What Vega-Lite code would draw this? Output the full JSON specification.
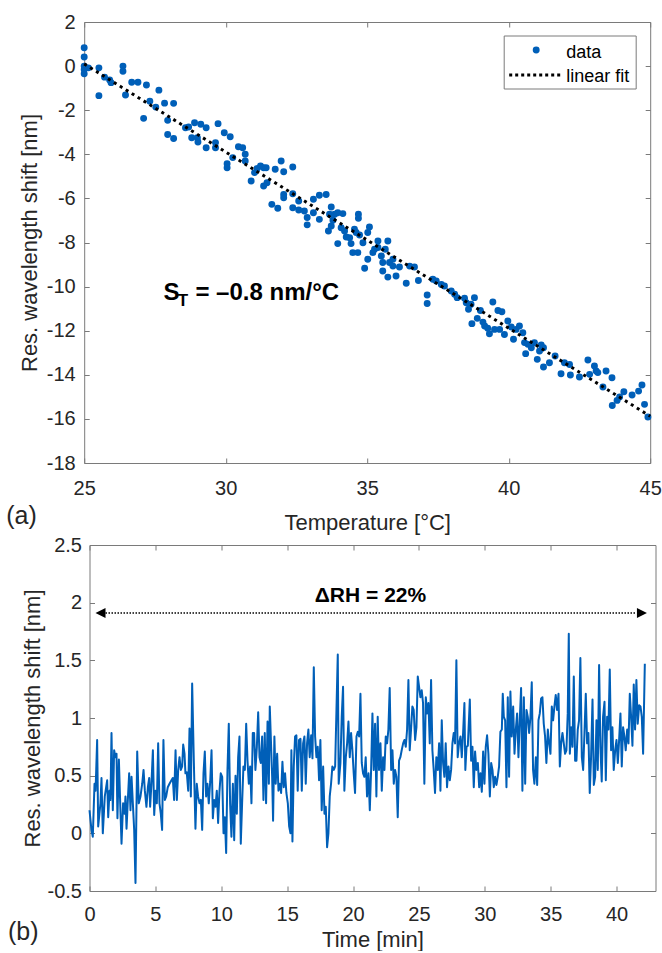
{
  "$schema": "https://vega.github.io/schema/vega-lite/v6.json",
  "background": "white",
  "padding": {"left": 5, "top": 11, "right": 0, "bottom": 0},
  "spacing": 0,
  "center": true,
  "config": {
    "font": "Liberation Sans",
    "view": {"stroke": "#7a7a7a", "strokeWidth": 1},
    "axis": {
      "domain": false, "grid": false, "ticks": true,
      "tickColor": "#7a7a7a", "tickSize": -5, "tickWidth": 1,
      "labelFont": "Liberation Sans", "labelFontSize": 20, "labelColor": "#262626",
      "labelFlush": false, "labelOverlap": false,
      "titleFont": "Liberation Sans", "titleFontSize": 22, "titleColor": "#262626", "titleFontWeight": "normal"
    },
    "text": {"font": "Liberation Sans"}
  },
  "vconcat": [
    {
      "width": 566,
      "height": 441,
      "resolve": {"axis": {"x": "independent", "y": "independent"}},
      "layer": [
        {
          "data": {"values": [
            {"temp":25,"shift":0.83},{"temp":25,"shift":0.41},{"temp":25,"shift":0},{"temp":25,"shift":-0.15},{"temp":25,"shift":-0.35},
            {"temp":25.15,"shift":-0.08},{"temp":25.52,"shift":-0.08},{"temp":25.52,"shift":-1.34},{"temp":25.72,"shift":-0.5},{"temp":25.9,"shift":-0.63},
            {"temp":25.95,"shift":-0.75},{"temp":26.37,"shift":0},{"temp":26.37,"shift":-0.23},{"temp":26.46,"shift":-1.31},{"temp":26.68,"shift":-0.73},
            {"temp":26.9,"shift":-0.73},{"temp":27.1,"shift":-2.37},{"temp":27.2,"shift":-0.86},{"temp":27.32,"shift":-1.59},{"temp":27.53,"shift":-1.86},
            {"temp":27.64,"shift":-1.09},{"temp":27.84,"shift":-1.68},{"temp":27.95,"shift":-2.46},{"temp":27.95,"shift":-3.1},{"temp":28.16,"shift":-1.69},
            {"temp":28.16,"shift":-3.28},{"temp":28.58,"shift":-2.8},{"temp":28.69,"shift":-2.76},{"temp":28.8,"shift":-3.25},{"temp":28.9,"shift":-2.57},
            {"temp":29.0,"shift":-3.25},{"temp":29.02,"shift":-3.44},{"temp":29.12,"shift":-2.64},{"temp":29.31,"shift":-2.8},{"temp":29.31,"shift":-3.7},
            {"temp":29.64,"shift":-3.47},{"temp":29.64,"shift":-3.7},{"temp":29.73,"shift":-2.61},{"temp":29.95,"shift":-3.02},{"temp":30.16,"shift":-3.2},
            {"temp":30.05,"shift":-4.43},{"temp":30.05,"shift":-4.61},{"temp":30.25,"shift":-4.15},{"temp":30.45,"shift":-3.66},{"temp":30.6,"shift":-3.7},
            {"temp":30.69,"shift":-4.0},{"temp":30.69,"shift":-4.3},{"temp":30.9,"shift":-5.21},{"temp":31.02,"shift":-4.83},{"temp":31.11,"shift":-4.64},
            {"temp":31.23,"shift":-4.53},{"temp":31.34,"shift":-4.61},{"temp":31.43,"shift":-4.61},{"temp":31.34,"shift":-5.44},{"temp":31.46,"shift":-5.29},
            {"temp":31.63,"shift":-6.27},{"temp":31.84,"shift":-6.45},{"temp":31.75,"shift":-4.68},{"temp":31.96,"shift":-4.3},{"temp":32.05,"shift":-4.79},
            {"temp":32.37,"shift":-4.58},{"temp":32.05,"shift":-5.82},{"temp":32.05,"shift":-5.97},{"temp":32.37,"shift":-5.79},{"temp":32.37,"shift":-6.42},
            {"temp":32.58,"shift":-6.12},{"temp":32.58,"shift":-6.53},{"temp":32.78,"shift":-6.57},{"temp":32.88,"shift":-6.87},{"temp":32.88,"shift":-7.2},
            {"temp":33.1,"shift":-6.04},{"temp":33.1,"shift":-6.65},{"temp":33.31,"shift":-5.86},{"temp":33.31,"shift":-6.95},{"temp":33.55,"shift":-5.82},
            {"temp":33.63,"shift":-7.48},{"temp":33.67,"shift":-6.72},
            {"temp":33.73,"shift":-6.39},{"temp":33.85,"shift":-6.72},{"temp":33.96,"shift":-6.65},{"temp":34.14,"shift":-6.69},{"temp":34.69,"shift":-6.72},
            {"temp":34.69,"shift":-6.9},{"temp":33.79,"shift":-6.99},{"temp":33.73,"shift":-7.25},{"temp":34.08,"shift":-7.33},{"temp":34.2,"shift":-7.48},
            {"temp":34.26,"shift":-7.75},{"temp":34.38,"shift":-7.78},{"temp":34.55,"shift":-7.4},{"temp":34.61,"shift":-7.55},{"temp":34.73,"shift":-7.66},
            {"temp":35.02,"shift":-7.55},{"temp":35.08,"shift":-7.3},{"temp":35.38,"shift":-7.93},{"temp":35.73,"shift":-7.93},
            {"temp":33.96,"shift":-8.05},{"temp":34.43,"shift":-8.05},{"temp":34.49,"shift":-8.46},{"temp":34.67,"shift":-8.46},{"temp":34.85,"shift":-8.01},
            {"temp":34.91,"shift":-9.17},{"temp":35.02,"shift":-8.76},{"temp":35.2,"shift":-8.46},{"temp":35.26,"shift":-8.31},{"temp":35.38,"shift":-8.23},
            {"temp":35.5,"shift":-8.61},{"temp":35.55,"shift":-8.91},{"temp":35.55,"shift":-9.29},{"temp":35.64,"shift":-8.31},{"temp":35.73,"shift":-9.57},
            {"temp":35.79,"shift":-8.91},{"temp":35.91,"shift":-8.76},{"temp":35.91,"shift":-9.07},{"temp":36.02,"shift":-9.52},{"temp":36.14,"shift":-9.11},
            {"temp":36.38,"shift":-9.85},{"temp":36.5,"shift":-9.07},{"temp":36.67,"shift":-9.11},{"temp":36.81,"shift":-9.72},{"temp":37.12,"shift":-10.38},
            {"temp":37.12,"shift":-10.77},{"temp":37.32,"shift":-9.67},{"temp":37.44,"shift":-9.75},{"temp":37.62,"shift":-9.9},{"temp":37.73,"shift":-9.97},
            {"temp":37.97,"shift":-10.2},{"temp":38.09,"shift":-10.35},{"temp":38.18,"shift":-10.5},{"temp":38.44,"shift":-10.53},{"temp":38.5,"shift":-10.73},
            {"temp":38.58,"shift":-11.03},{"temp":38.67,"shift":-10.8},{"temp":38.79,"shift":-10.5},{"temp":38.7,"shift":-11.68},{"temp":38.89,"shift":-11.44},
            {"temp":39.0,"shift":-11.08},{"temp":39.09,"shift":-11.61},{"temp":39.15,"shift":-11.79},{"temp":39.26,"shift":-11.89},{"temp":39.32,"shift":-12.14},
            {"temp":39.44,"shift":-10.7},{"temp":39.5,"shift":-11.94},{"temp":39.62,"shift":-11.08},{"temp":39.68,"shift":-11.94},{"temp":39.76,"shift":-11.14},
            {"temp":39.85,"shift":-12.17},{"temp":39.97,"shift":-11.56},{"temp":40.09,"shift":-11.83},{"temp":40.17,"shift":-12.39},{"temp":40.26,"shift":-11.94},
            {"temp":40.38,"shift":-11.79},{"temp":40.5,"shift":-12.09},{"temp":40.56,"shift":-12.54},{"temp":40.6,"shift":-13.04},{"temp":40.68,"shift":-12.62},
            {"temp":40.8,"shift":-12.77},{"temp":40.91,"shift":-12.54},{"temp":41.01,"shift":-13.3},{"temp":41.09,"shift":-12.92},{"temp":41.15,"shift":-12.65},
            {"temp":41.23,"shift":-12.77},{"temp":41.23,"shift":-13.65},{"temp":41.44,"shift":-13.45},{"temp":41.64,"shift":-13.15},{"temp":41.85,"shift":-13.95},
            {"temp":41.97,"shift":-13.45},{"temp":42.15,"shift":-13.53},{"temp":42.18,"shift":-14.01},{"temp":42.5,"shift":-14.1},{"temp":42.8,"shift":-13.33},
            {"temp":42.86,"shift":-13.98},{"temp":43.03,"shift":-13.6},{"temp":43.09,"shift":-13.83},{"temp":43.15,"shift":-13.9},{"temp":43.33,"shift":-14.55},
            {"temp":43.44,"shift":-13.83},{"temp":43.65,"shift":-14.13},{"temp":43.66,"shift":-15.39},{"temp":43.83,"shift":-15.16},{"temp":43.92,"shift":-15.01},
            {"temp":44.07,"shift":-14.77},{"temp":44.36,"shift":-14.92},{"temp":44.59,"shift":-14.74},{"temp":44.71,"shift":-14.46},{"temp":44.8,"shift":-15.34},
            {"temp":44.92,"shift":-15.91}
          ]},
          "mark": {"type": "point", "filled": true, "size": 48, "opacity": 1, "strokeWidth": 0, "color": "#005fb8"},
          "encoding": {
            "x": {"field": "temp", "type": "quantitative",
              "scale": {"domain": [25, 45], "nice": false, "zero": false},
              "axis": {"orient": "bottom", "values": [25, 30, 35, 40, 45], "labelExpr": "'' + datum.value",
                "title": "Temperature [°C]", "labelPadding": 20, "titlePadding": 14}},
            "y": {"field": "shift", "type": "quantitative",
              "scale": {"domain": [-18, 2], "nice": false, "zero": false},
              "axis": {"orient": "left", "values": [-18, -16, -14, -12, -10, -8, -6, -4, -2, 0, 2], "labelExpr": "'' + datum.value",
                "title": "Res. wavelength shift [nm]", "labelPadding": 14, "titlePadding": 5}}
          }
        },
        {
          "data": {"values": [{"temp": 25, "shift": 0.1}, {"temp": 45, "shift": -15.88}]},
          "mark": {"type": "line", "strokeDash": [3, 4], "strokeWidth": 3, "strokeCap": "butt", "color": "#000000"},
          "encoding": {
            "x": {"field": "temp", "type": "quantitative",
              "axis": {"orient": "top", "values": [25, 30, 35, 40, 45], "labels": false, "title": null}},
            "y": {"field": "shift", "type": "quantitative",
              "axis": {"orient": "right", "values": [-18, -16, -14, -12, -10, -8, -6, -4, -2, 0, 2], "labels": false, "title": null}}
          }
        },
        {
          "data": {"values": [{}]},
          "mark": {"type": "rect", "fill": "white", "stroke": "#7a7a7a", "strokeWidth": 1},
          "encoding": {
            "x": {"datum": 39.841, "type": "quantitative", "axis": null},
            "x2": {"datum": 44.505},
            "y": {"datum": 1.365, "type": "quantitative", "axis": null},
            "y2": {"datum": -1.039}
          }
        },
        {
          "data": {"values": [{}]},
          "mark": {"type": "point", "filled": true, "size": 48, "opacity": 1, "strokeWidth": 0, "color": "#005fb8"},
          "encoding": {
            "x": {"datum": 40.972, "type": "quantitative", "axis": null},
            "y": {"datum": 0.73, "type": "quantitative", "axis": null}
          }
        },
        {
          "data": {"values": [{}]},
          "mark": {"type": "rule", "strokeDash": [3, 3], "strokeWidth": 3, "strokeCap": "butt", "color": "#000000"},
          "encoding": {
            "x": {"datum": 40.018, "type": "quantitative", "axis": null},
            "x2": {"datum": 41.855},
            "y": {"datum": -0.404, "type": "quantitative", "axis": null}
          }
        },
        {
          "data": {"values": [{}]},
          "mark": {"type": "text", "text": "data", "fontSize": 18, "align": "left", "baseline": "alphabetic", "color": "#000000"},
          "encoding": {
            "x": {"datum": 42.032, "type": "quantitative", "axis": null},
            "y": {"datum": 0.367, "type": "quantitative", "axis": null}
          }
        },
        {
          "data": {"values": [{}]},
          "mark": {"type": "text", "text": "linear fit", "fontSize": 18, "align": "left", "baseline": "alphabetic", "color": "#000000"},
          "encoding": {
            "x": {"datum": 42.032, "type": "quantitative", "axis": null},
            "y": {"datum": -0.721, "type": "quantitative", "axis": null}
          }
        },
        {
          "data": {"values": [{}]},
          "mark": {"type": "text", "text": "S", "fontSize": 24, "fontWeight": "bold", "align": "left", "baseline": "alphabetic", "color": "#000000"},
          "encoding": {
            "x": {"datum": 27.8, "type": "quantitative", "axis": null},
            "y": {"datum": -10.62, "type": "quantitative", "axis": null}
          }
        },
        {
          "data": {"values": [{}]},
          "mark": {"type": "text", "text": "T", "fontSize": 17, "fontWeight": "bold", "align": "left", "baseline": "alphabetic", "color": "#000000"},
          "encoding": {
            "x": {"datum": 28.31, "type": "quantitative", "axis": null},
            "y": {"datum": -10.88, "type": "quantitative", "axis": null}
          }
        },
        {
          "data": {"values": [{}]},
          "mark": {"type": "text", "text": "= –0.8 nm/°C", "fontSize": 24, "fontWeight": "bold", "align": "left", "baseline": "alphabetic", "color": "#000000"},
          "encoding": {
            "x": {"datum": 28.93, "type": "quantitative", "axis": null},
            "y": {"datum": -10.62, "type": "quantitative", "axis": null}
          }
        },
        {
          "data": {"values": [{}]},
          "mark": {"type": "text", "text": "(a)", "fontSize": 25, "align": "left", "baseline": "middle", "color": "#262626"},
          "encoding": {
            "x": {"datum": 22.244, "type": "quantitative", "axis": null},
            "y": {"datum": -20.4, "type": "quantitative", "axis": null}
          }
        }
      ]
    },
    {
      "width": 566,
      "height": 346,
      "resolve": {"axis": {"x": "independent", "y": "independent"}},
      "layer": [
        {
          "data": {"values": [
            {"t":0.00,"s":0.20},{"t":0.15,"s":0.03},{"t":0.25,"s":-0.03},{"t":0.38,"s":0.43},{"t":0.46,"s":0.37},{"t":0.58,"s":0.81},{"t":0.66,"s":0.06},{"t":0.83,"s":0.26},{"t":0.91,"s":0.48},{"t":1.01,"s":0.00},
            {"t":1.16,"s":0.32},{"t":1.34,"s":0.46},{"t":1.42,"s":0.14},{"t":1.52,"s":0.37},{"t":1.59,"s":0.29},{"t":1.67,"s":0.87},{"t":1.77,"s":0.20},{"t":1.87,"s":0.72},{"t":1.97,"s":0.66},{"t":2.05,"s":0.69},
            {"t":2.12,"s":0.13},{"t":2.23,"s":0.64},{"t":2.33,"s":0.26},{"t":2.43,"s":-0.09},{"t":2.55,"s":0.26},{"t":2.66,"s":0.17},{"t":2.73,"s":0.32},{"t":2.81,"s":0.04},{"t":2.91,"s":0.29},{"t":3.01,"s":0.52},
            {"t":3.11,"s":0.20},{"t":3.19,"s":0.49},{"t":3.29,"s":0.26},{"t":3.39,"s":0.03},{"t":3.49,"s":-0.43},{"t":3.62,"s":0.71},{"t":3.74,"s":0.26},{"t":3.87,"s":0.32},{"t":4.00,"s":0.43},{"t":4.10,"s":0.55},
            {"t":4.20,"s":0.37},{"t":4.32,"s":0.23},{"t":4.43,"s":0.40},{"t":4.53,"s":0.48},{"t":4.60,"s":0.23},{"t":4.70,"s":0.43},{"t":4.81,"s":0.72},{"t":4.91,"s":0.16},{"t":5.01,"s":0.37},{"t":5.11,"s":0.26},
            {"t":5.21,"s":0.78},{"t":5.31,"s":0.26},{"t":5.41,"s":0.17},{"t":5.51,"s":0.03},{"t":5.61,"s":0.81},{"t":5.72,"s":0.29},{"t":5.82,"s":0.32},{"t":5.94,"s":0.40},{"t":6.07,"s":0.43},{"t":6.22,"s":0.46},
            {"t":6.32,"s":0.48},{"t":6.42,"s":0.29},{"t":6.53,"s":0.72},{"t":6.63,"s":0.29},{"t":6.73,"s":0.55},{"t":6.83,"s":0.66},{"t":6.93,"s":0.55},{"t":7.03,"s":0.58},{"t":7.11,"s":0.77},{"t":7.21,"s":0.69},
            {"t":7.28,"s":0.52},{"t":7.38,"s":0.53},{"t":7.49,"s":0.37},{"t":7.59,"s":0.91},{"t":7.69,"s":0.32},{"t":7.79,"s":1.30},{"t":7.92,"s":0.61},{"t":8.04,"s":0.04},{"t":8.14,"s":0.43},{"t":8.24,"s":0.32},
            {"t":8.35,"s":0.26},{"t":8.45,"s":0.29},{"t":8.55,"s":0.03},{"t":8.65,"s":0.52},{"t":8.75,"s":0.71},{"t":8.85,"s":0.32},{"t":8.95,"s":0.43},{"t":9.05,"s":0.26},{"t":9.16,"s":0.45},{"t":9.26,"s":0.72},
            {"t":9.36,"s":0.13},{"t":9.46,"s":0.29},{"t":9.56,"s":0.23},{"t":9.66,"s":0.37},{"t":9.76,"s":0.09},{"t":9.86,"s":0.36},{"t":9.96,"s":0.52},{"t":10.07,"s":0.49},{"t":10.17,"s":0.00},{"t":10.27,"s":0.14},
            {"t":10.37,"s":-0.17},{"t":10.47,"s":0.55},{"t":10.57,"s":0.95},{"t":10.67,"s":0.26},{"t":10.77,"s":-0.03},{"t":10.88,"s":0.43},{"t":10.98,"s":-0.06},{"t":11.08,"s":0.50},{"t":11.18,"s":0.17},{"t":11.28,"s":0.66},
            {"t":11.38,"s":0.84},{"t":11.48,"s":-0.09},{"t":11.58,"s":0.26},{"t":11.68,"s":0.58},{"t":11.79,"s":0.55},{"t":11.89,"s":0.95},{"t":11.99,"s":0.63},{"t":12.09,"s":0.43},{"t":12.19,"s":0.58},{"t":12.29,"s":0.26},
            {"t":12.39,"s":0.87},{"t":12.49,"s":0.87},{"t":12.59,"s":0.55},{"t":12.70,"s":0.75},{"t":12.80,"s":1.05},{"t":12.90,"s":0.66},{"t":13.00,"s":0.61},{"t":13.10,"s":0.84},{"t":13.20,"s":0.29},{"t":13.30,"s":0.87},
            {"t":13.40,"s":0.26},{"t":13.51,"s":0.97},{"t":13.61,"s":0.43},{"t":13.68,"s":1.10},
            {"t":13.86,"s":0.49},{"t":13.93,"s":0.11},{"t":14.03,"s":0.84},{"t":14.13,"s":0.43},{"t":14.24,"s":0.69},{"t":14.34,"s":0.37},{"t":14.44,"s":0.43},{"t":14.54,"s":0.35},{"t":14.64,"s":0.62},{"t":14.74,"s":0.40},
            {"t":14.84,"s":0.52},{"t":14.94,"s":0.35},{"t":15.05,"s":0.26},{"t":15.15,"s":0.06},{"t":15.25,"s":0.00},{"t":15.32,"s":0.72},{"t":15.40,"s":-0.07},{"t":15.50,"s":0.58},{"t":15.60,"s":0.84},{"t":15.70,"s":0.85},
            {"t":15.80,"s":0.37},{"t":15.90,"s":0.81},{"t":16.01,"s":0.82},{"t":16.11,"s":0.37},{"t":16.21,"s":0.78},{"t":16.31,"s":0.84},{"t":16.41,"s":0.43},{"t":16.51,"s":0.78},{"t":16.61,"s":0.90},{"t":16.71,"s":0.66},
            {"t":16.82,"s":0.85},{"t":16.92,"s":0.65},{"t":17.02,"s":1.44},{"t":17.12,"s":0.84},{"t":17.22,"s":0.66},{"t":17.32,"s":0.75},{"t":17.42,"s":0.46},{"t":17.52,"s":0.81},{"t":17.62,"s":0.20},{"t":17.73,"s":0.58},
            {"t":17.83,"s":0.17},{"t":17.93,"s":0.23},{"t":18.03,"s":-0.12},{"t":18.13,"s":0.00},{"t":18.23,"s":0.32},{"t":18.33,"s":0.43},{"t":18.43,"s":0.58},{"t":18.54,"s":0.55},{"t":18.64,"s":0.58},{"t":18.74,"s":1.07},
            {"t":18.84,"s":1.55},{"t":18.91,"s":0.43},{"t":19.04,"s":0.61},{"t":19.14,"s":1.01},{"t":19.24,"s":1.27},{"t":19.34,"s":0.37},{"t":19.45,"s":0.66},{"t":19.55,"s":0.78},{"t":19.65,"s":0.97},{"t":19.75,"s":0.66},
            {"t":19.85,"s":0.87},{"t":19.95,"s":0.72},{"t":20.05,"s":0.52},{"t":20.15,"s":0.35},{"t":20.26,"s":0.84},{"t":20.36,"s":0.88},{"t":20.46,"s":0.84},{"t":20.56,"s":1.21},{"t":20.66,"s":0.61},{"t":20.76,"s":0.52},
            {"t":20.86,"s":0.49},{"t":20.96,"s":0.66},{"t":21.06,"s":0.32},{"t":21.17,"s":0.52},{"t":21.27,"s":0.20},{"t":21.37,"s":0.55},{"t":21.47,"s":1.04},{"t":21.57,"s":0.55},{"t":21.67,"s":0.95},{"t":21.77,"s":0.32},
            {"t":21.87,"s":1.01},{"t":21.97,"s":0.55},{"t":22.08,"s":0.78},{"t":22.18,"s":0.37},{"t":22.28,"s":0.66},{"t":22.38,"s":0.55},{"t":22.48,"s":0.84},{"t":22.58,"s":0.78},{"t":22.68,"s":0.90},{"t":22.78,"s":1.26},
            {"t":22.89,"s":0.55},{"t":22.99,"s":0.72},{"t":23.09,"s":0.43},{"t":23.19,"s":0.55},{"t":23.29,"s":0.49},{"t":23.39,"s":0.14},{"t":23.49,"s":0.63},{"t":23.59,"s":0.66},{"t":23.69,"s":0.72},{"t":23.80,"s":0.78},
            {"t":23.90,"s":0.81},{"t":24.00,"s":0.75},{"t":24.10,"s":0.90},{"t":24.20,"s":1.33},{"t":24.30,"s":0.72},{"t":24.40,"s":0.90},{"t":24.50,"s":1.10},{"t":24.60,"s":1.07},{"t":24.71,"s":0.81},{"t":24.81,"s":0.92},
            {"t":24.91,"s":1.36},{"t":25.01,"s":1.27},{"t":25.11,"s":1.18},{"t":25.21,"s":1.24},{"t":25.31,"s":1.13},{"t":25.41,"s":0.43},{"t":25.52,"s":1.18},{"t":25.62,"s":1.04},{"t":25.72,"s":1.13},{"t":25.82,"s":0.78},
            {"t":25.92,"s":1.33},{"t":26.02,"s":0.72},{"t":26.12,"s":0.55},{"t":26.22,"s":0.35},{"t":26.32,"s":0.66},{"t":26.43,"s":0.55},{"t":26.53,"s":0.78},{"t":26.63,"s":0.37},{"t":26.73,"s":0.98},{"t":26.83,"s":0.61},
            {"t":26.93,"s":0.49},{"t":27.03,"s":0.78},{"t":27.13,"s":0.40},{"t":27.24,"s":0.58},{"t":27.34,"s":0.46},{"t":27.44,"s":0.55},{"t":27.54,"s":0.78},{"t":27.64,"s":0.87},{"t":27.74,"s":0.78},{"t":27.84,"s":1.50},
            {"t":27.94,"s":0.66},{"t":28.04,"s":0.78},{"t":28.15,"s":0.84},{"t":28.25,"s":0.66},{"t":28.35,"s":0.87},{"t":28.45,"s":1.13},{"t":28.52,"s":0.55},
            {"t":28.61,"s":0.75},{"t":28.71,"s":0.76},{"t":28.86,"s":1.16},{"t":28.96,"s":0.63},{"t":29.06,"s":0.75},{"t":29.16,"s":0.40},{"t":29.26,"s":0.71},{"t":29.36,"s":0.55},{"t":29.47,"s":0.61},{"t":29.57,"s":0.40},
            {"t":29.67,"s":0.52},{"t":29.77,"s":0.36},{"t":29.87,"s":0.71},{"t":29.97,"s":0.43},{"t":30.07,"s":0.75},{"t":30.17,"s":0.85},{"t":30.27,"s":0.69},{"t":30.38,"s":0.32},{"t":30.48,"s":0.61},{"t":30.58,"s":0.55},
            {"t":30.68,"s":0.40},{"t":30.78,"s":0.49},{"t":30.88,"s":0.42},{"t":30.98,"s":0.49},{"t":31.08,"s":0.58},{"t":31.18,"s":0.88},{"t":31.29,"s":0.90},{"t":31.36,"s":1.21},{"t":31.44,"s":1.01},{"t":31.54,"s":0.98},
            {"t":31.64,"s":0.40},{"t":31.74,"s":1.18},{"t":31.84,"s":0.49},{"t":31.94,"s":1.23},{"t":32.04,"s":0.84},{"t":32.15,"s":1.10},{"t":32.25,"s":0.69},{"t":32.35,"s":0.90},{"t":32.45,"s":1.04},{"t":32.55,"s":0.66},
            {"t":32.65,"s":0.98},{"t":32.75,"s":1.26},{"t":32.85,"s":0.37},{"t":32.96,"s":1.18},{"t":33.06,"s":0.43},{"t":33.16,"s":1.07},{"t":33.26,"s":1.01},{"t":33.36,"s":0.87},{"t":33.46,"s":1.01},{"t":33.56,"s":1.31},
            {"t":33.66,"s":0.55},{"t":33.76,"s":0.43},{"t":33.87,"s":0.66},{"t":33.97,"s":0.42},{"t":34.07,"s":0.98},{"t":34.17,"s":1.04},{"t":34.27,"s":1.17},{"t":34.37,"s":1.18},{"t":34.47,"s":0.95},{"t":34.57,"s":0.84},
            {"t":34.67,"s":0.61},{"t":34.78,"s":0.90},{"t":34.88,"s":0.78},{"t":34.98,"s":0.69},{"t":35.08,"s":1.10},{"t":35.18,"s":0.98},{"t":35.28,"s":1.10},{"t":35.38,"s":1.20},{"t":35.48,"s":1.07},{"t":35.59,"s":1.21},
            {"t":35.69,"s":0.58},{"t":35.79,"s":0.78},{"t":35.89,"s":0.87},{"t":35.99,"s":0.78},{"t":36.09,"s":0.69},{"t":36.19,"s":0.72},{"t":36.29,"s":1.04},{"t":36.37,"s":1.73},{"t":36.45,"s":0.69},{"t":36.55,"s":0.92},
            {"t":36.65,"s":0.75},{"t":36.75,"s":1.36},{"t":36.85,"s":0.63},{"t":36.95,"s":0.63},{"t":37.05,"s":0.90},{"t":37.15,"s":0.98},{"t":37.25,"s":1.52},{"t":37.36,"s":0.66},{"t":37.46,"s":0.55},{"t":37.56,"s":0.87},
            {"t":37.66,"s":1.21},{"t":37.76,"s":0.78},{"t":37.86,"s":0.87},{"t":37.96,"s":0.35},{"t":38.06,"s":0.66},{"t":38.17,"s":1.16},{"t":38.27,"s":0.42},{"t":38.37,"s":0.49},{"t":38.47,"s":0.98},{"t":38.57,"s":0.55},
            {"t":38.67,"s":1.46},{"t":38.77,"s":0.75},{"t":38.87,"s":0.45},{"t":38.97,"s":1.01},{"t":39.08,"s":1.14},{"t":39.18,"s":0.46},{"t":39.28,"s":1.01},{"t":39.38,"s":0.90},{"t":39.48,"s":1.42},{"t":39.58,"s":0.72},
            {"t":39.68,"s":0.92},{"t":39.78,"s":0.55},{"t":39.89,"s":0.72},{"t":39.99,"s":0.81},{"t":40.09,"s":0.61},{"t":40.19,"s":0.81},{"t":40.29,"s":1.04},{"t":40.39,"s":0.58},{"t":40.49,"s":0.92},{"t":40.59,"s":0.84},
            {"t":40.69,"s":0.72},{"t":40.80,"s":0.90},{"t":40.90,"s":0.78},{"t":41.00,"s":1.21},{"t":41.10,"s":1.01},{"t":41.20,"s":0.76},{"t":41.30,"s":1.29},{"t":41.40,"s":0.90},{"t":41.50,"s":1.33},{"t":41.60,"s":0.95},
            {"t":41.71,"s":1.11},{"t":41.81,"s":1.10},{"t":41.91,"s":1.01},{"t":42.01,"s":0.69},{"t":42.14,"s":1.47}
          ]},
          "mark": {"type": "line", "color": "#005fb8", "strokeWidth": 2, "strokeJoin": "round"},
          "encoding": {
            "x": {"field": "t", "type": "quantitative",
              "scale": {"domain": [0, 42.95], "nice": false, "zero": false},
              "axis": {"orient": "bottom", "values": [0, 5, 10, 15, 20, 25, 30, 35, 40], "labelExpr": "'' + datum.value",
                "title": "Time [min]", "labelPadding": 18, "titlePadding": 5}},
            "y": {"field": "s", "type": "quantitative",
              "scale": {"domain": [-0.5, 2.5], "nice": false, "zero": false},
              "axis": {"orient": "left", "values": [-0.5, 0, 0.5, 1, 1.5, 2, 2.5], "labelExpr": "'' + datum.value",
                "title": "Res. wavelength shift [nm]", "labelPadding": 13, "titlePadding": 3}}
          }
        },
        {
          "data": {"values": [{}]},
          "mark": {"type": "rule", "color": "#000000", "strokeWidth": 1.5, "strokeDash": [1.5, 1.5]},
          "encoding": {
            "x": {"datum": 1.214, "type": "quantitative",
              "axis": {"orient": "top", "values": [0, 5, 10, 15, 20, 25, 30, 35, 40], "labels": false, "title": null}},
            "x2": {"datum": 41.5},
            "y": {"datum": 1.91, "type": "quantitative",
              "axis": {"orient": "right", "values": [-0.5, 0, 0.5, 1, 1.5, 2, 2.5], "labels": false, "title": null}}
          }
        },
        {
          "data": {"values": [{}]},
          "mark": {"type": "point", "shape": "M -1 0 L 1 -1 L 1 1 Z", "size": 100, "filled": true, "opacity": 1, "color": "#000000", "strokeWidth": 0},
          "encoding": {
            "x": {"datum": 0.835, "type": "quantitative", "axis": null},
            "y": {"datum": 1.91, "type": "quantitative", "axis": null}
          }
        },
        {
          "data": {"values": [{}]},
          "mark": {"type": "point", "shape": "M 1 0 L -1 -1 L -1 1 Z", "size": 100, "filled": true, "opacity": 1, "color": "#000000", "strokeWidth": 0},
          "encoding": {
            "x": {"datum": 41.92, "type": "quantitative", "axis": null},
            "y": {"datum": 1.91, "type": "quantitative", "axis": null}
          }
        },
        {
          "data": {"values": [{}]},
          "mark": {"type": "text", "text": "ΔRH = 22%", "fontSize": 21, "fontWeight": "bold", "align": "center", "baseline": "alphabetic", "color": "#000000"},
          "encoding": {
            "x": {"datum": 21.32, "type": "quantitative", "axis": null},
            "y": {"datum": 2.008, "type": "quantitative", "axis": null}
          }
        },
        {
          "data": {"values": [{}]},
          "mark": {"type": "text", "text": "(b)", "fontSize": 25, "align": "left", "baseline": "middle", "color": "#262626"},
          "encoding": {
            "x": {"datum": -6.184, "type": "quantitative", "axis": null},
            "y": {"datum": -0.857, "type": "quantitative", "axis": null}
          }
        }
      ]
    }
  ]
}
